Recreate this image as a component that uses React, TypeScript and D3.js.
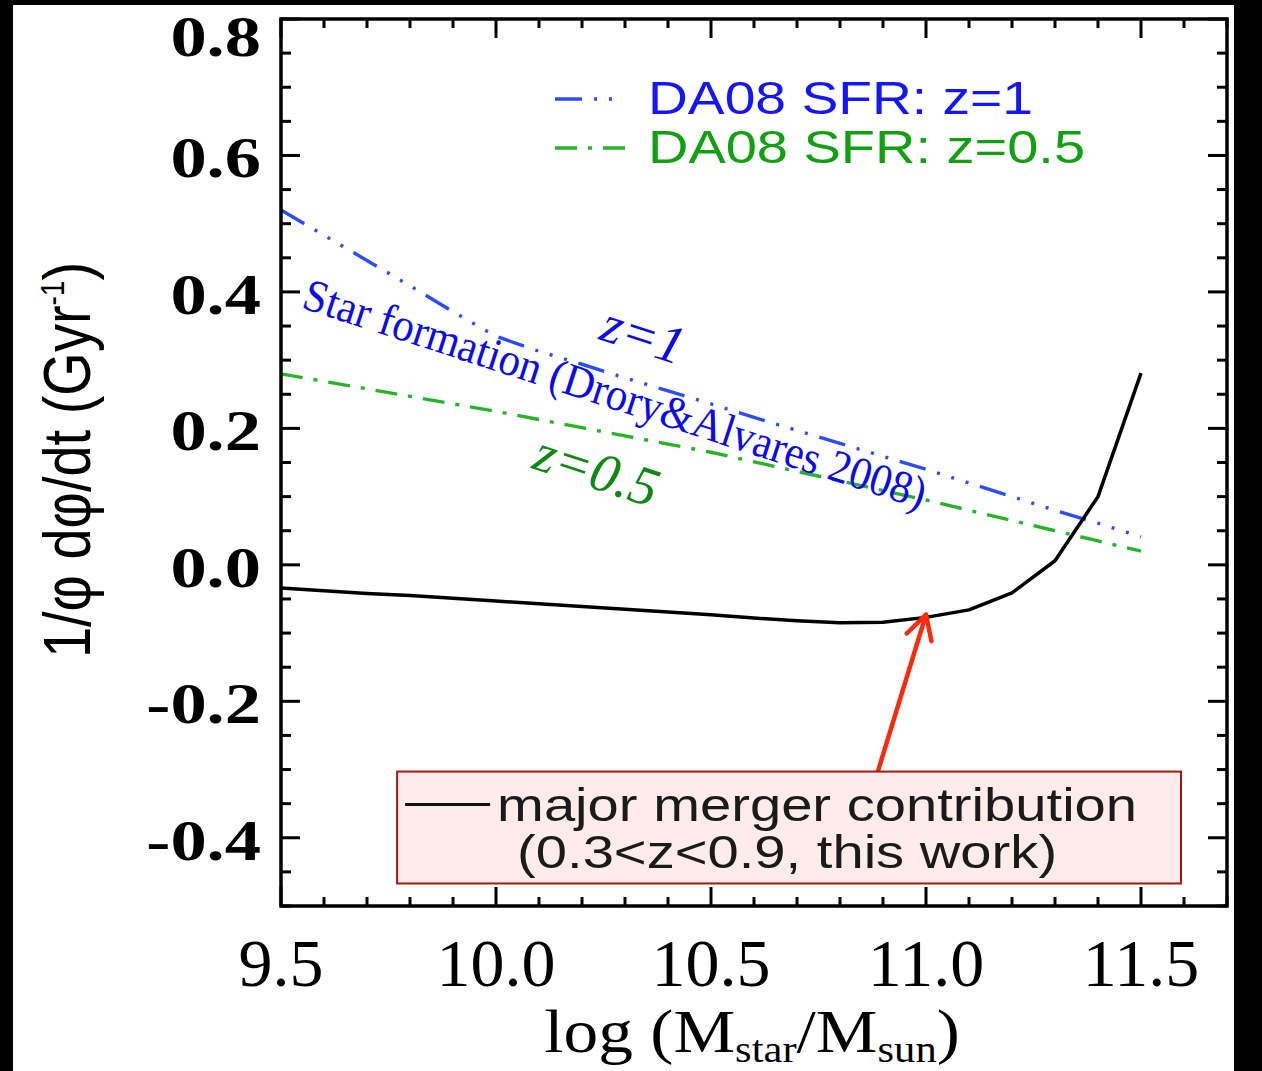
import React, { useEffect, useRef } from "react";
import * as d3 from "d3";

// log stellar mass grid
const logMass = [9.5, 9.6, 9.7, 9.8, 9.9, 10.0, 10.1, 10.2, 10.3, 10.4, 10.5, 10.6, 10.7, 10.8, 10.9, 11.0, 11.1, 11.2, 11.3, 11.4, 11.5];
// DA08 star formation, z=1
const sfrZ1 = [0.52, 0.483, 0.446, 0.409, 0.371, 0.335, 0.313, 0.294, 0.274, 0.255, 0.236, 0.216, 0.197, 0.178, 0.159, 0.14, 0.12, 0.1, 0.08, 0.061, 0.041];
// DA08 star formation, z=0.5
const sfrZ05 = [0.28, 0.269, 0.258, 0.247, 0.236, 0.225, 0.213, 0.201, 0.189, 0.177, 0.165, 0.151, 0.137, 0.123, 0.109, 0.095, 0.08, 0.065, 0.05, 0.035, 0.02];
// major merger contribution (0.3<z<0.9)
const mergerRate = [-0.034, -0.038, -0.042, -0.045, -0.049, -0.053, -0.057, -0.061, -0.065, -0.069, -0.073, -0.078, -0.082, -0.085, -0.084, -0.077, -0.066, -0.041, 0.006, 0.1, 0.281];

const xTickValues = [9.5, 10.0, 10.5, 11.0, 11.5];
const xTickLabels = ["9.5", "10.0", "10.5", "11.0", "11.5"];
const yTickValues = [-0.4, -0.2, 0.0, 0.2, 0.4, 0.6, 0.8];
const yTickLabels = ["-0.4", "-0.2", "0.0", "0.2", "0.4", "0.6", "0.8"];
const legendLabels = ["DA08 SFR: z=1", "DA08 SFR: z=0.5"];
const mergerLabels = ["major merger contribution", "(0.3<z<0.9, this work)"];

const W = 1262;
const H = 1071;
const SERIF = "'Liberation Serif', 'Times New Roman', serif";
const SANS = "'Liberation Sans', Arial, sans-serif";
const BLUE = "#2b4cff";
const GREEN = "#28b428";

const App = () => {
  const ref = useRef<SVGSVGElement>(null);

  useEffect(() => {
    const svg = d3.select(ref.current);
    svg.selectAll("*").remove();

    const x = d3.scaleLinear().domain([9.5, 11.7]).range([281, 1227]);
    const y = d3.scaleLinear().domain([-0.5, 0.8]).range([906, 19]);

    // page background with the black border of the scan
    svg.append("rect").attr("width", W).attr("height", H).attr("fill", "#000");
    svg.append("rect").attr("x", 13).attr("y", 5).attr("width", 1221).attr("height", H - 5).attr("fill", "#fff");

    const line = (vals: number[]) =>
      d3.line<number>().x((_, i) => x(logMass[i])).y((d) => y(d))(vals);

    svg.append("path").attr("d", line(sfrZ1)).attr("fill", "none")
      .attr("stroke", BLUE).attr("stroke-width", 3.4)
      .attr("stroke-dasharray", "27 12 3 12 3 12 3 12");
    svg.append("path").attr("d", line(sfrZ05)).attr("fill", "none")
      .attr("stroke", GREEN).attr("stroke-width", 3.4)
      .attr("stroke-dasharray", "22 11 4 11");
    svg.append("path").attr("d", line(mergerRate)).attr("fill", "none")
      .attr("stroke", "#000").attr("stroke-width", 3.5).attr("stroke-linejoin", "round");

    // frame + ticks
    const [x0, x1] = x.range();
    const [y0, y1] = y.range();
    const g = svg.append("g").attr("stroke", "#000");
    d3.range(95, 118).forEach((k) => {
      const v = k / 10;
      const len = k % 5 === 0 ? 19 : 9;
      const px = x(v);
      g.append("line").attr("x1", px).attr("x2", px).attr("y1", y0).attr("y2", y0 - len).attr("stroke-width", 3);
      g.append("line").attr("x1", px).attr("x2", px).attr("y1", y1).attr("y2", y1 + len).attr("stroke-width", 3);
    });
    d3.range(-10, 17).forEach((k) => {
      const v = k / 20;
      const len = k % 4 === 0 ? 19 : 10;
      const py = y(v);
      g.append("line").attr("x1", x0).attr("x2", x0 + len).attr("y1", py).attr("y2", py).attr("stroke-width", 3);
      g.append("line").attr("x1", x1).attr("x2", x1 - len).attr("y1", py).attr("y2", py).attr("stroke-width", 3);
    });
    g.append("rect").attr("x", x0).attr("y", y1).attr("width", x1 - x0).attr("height", y0 - y1)
      .attr("fill", "none").attr("stroke-width", 3.5);

    // tick labels
    xTickValues.forEach((v, i) => {
      svg.append("text").attr("x", x(v)).attr("y", 986).attr("text-anchor", "middle")
        .attr("font-family", SERIF).attr("font-size", 68).text(xTickLabels[i]);
    });
    yTickValues.forEach((v, i) => {
      const cy = Math.max(y(v) + 3, y1 + 18);
      svg.append("text").attr("transform", `translate(261,${cy + 19}) scale(1.25,1)`)
        .attr("text-anchor", "end")
        .attr("font-family", SERIF).attr("font-weight", "bold")
        .attr("font-size", 58).text(yTickLabels[i]);
    });

    // axis titles
    const xt = svg.append("text").attr("transform", "translate(752,1052) scale(1.12,1)")
      .attr("text-anchor", "middle").attr("font-family", SERIF).attr("font-size", 62);
    xt.append("tspan").text("log (M");
    xt.append("tspan").attr("dy", 10).attr("font-size", 38).text("star");
    xt.append("tspan").attr("dy", -10).text("/M");
    xt.append("tspan").attr("dy", 10).attr("font-size", 38).text("sun");
    xt.append("tspan").attr("dy", -10).text(")");

    const yt = svg.append("text").attr("transform", "translate(90,460) scale(1.2,1) rotate(-90)")
      .attr("text-anchor", "middle").attr("font-family", SANS).attr("font-size", 56);
    yt.append("tspan").text("1/φ dφ/dt (Gyr");
    yt.append("tspan").attr("dy", -22).attr("font-size", 28).text("-1");
    yt.append("tspan").attr("dy", 22).text(")");

    // top legend
    const legendColors = [BLUE, GREEN];
    const legendText = ["#1414ff", "#10a010"];
    const legendDash = ["27 12 3 12 3 12 3 12", "22 11 4 11"];
    const legendLen = [62, 70];
    const legendWidth = [385, 437];
    legendLabels.forEach((lab, i) => {
      const base = 114 + i * 49;
      svg.append("line").attr("x1", 555).attr("x2", 555 + legendLen[i]).attr("y1", base - 15).attr("y2", base - 15)
        .attr("stroke", legendColors[i]).attr("stroke-width", 3.4).attr("stroke-dasharray", legendDash[i]);
      svg.append("text").attr("x", 648).attr("y", base).attr("font-family", SANS).attr("font-size", 46)
        .attr("fill", legendText[i]).attr("textLength", legendWidth[i]).attr("lengthAdjust", "spacingAndGlyphs")
        .text(lab);
    });

    // in-plot annotations
    svg.append("text")
      .attr("transform", `translate(${x(9.545)},${y(0.377)}) rotate(18)`)
      .attr("font-family", SERIF).attr("font-size", 46).attr("fill", "#0a0aee")
      .attr("textLength", 652).attr("lengthAdjust", "spacingAndGlyphs")
      .text("Star formation (Drory&Alvares 2008)");
    svg.append("text")
      .attr("transform", `translate(${x(10.33)},${y(0.312)}) rotate(18)`)
      .attr("text-anchor", "middle").attr("font-family", SERIF).attr("font-style", "italic")
      .attr("font-size", 54).attr("fill", "#0a0aee").text("z=1");
    svg.append("text")
      .attr("transform", `translate(${x(10.221)},${y(0.113)}) rotate(18)`)
      .attr("text-anchor", "middle").attr("font-family", SERIF).attr("font-style", "italic")
      .attr("font-size", 55).attr("fill", "#118811").text("z=0.5");

    // red arrow
    const tail: [number, number] = [x(10.888), y(-0.303)];
    const tip: [number, number] = [x(11.0), y(-0.073)];
    const ang = Math.atan2(tail[1] - tip[1], tail[0] - tip[0]);
    const red = "#ff2a0a";
    svg.append("line").attr("x1", tail[0]).attr("y1", tail[1]).attr("x2", tip[0]).attr("y2", tip[1])
      .attr("stroke", red).attr("stroke-width", 4.5);
    [-0.5, 0.5].forEach((d) => {
      svg.append("line").attr("x1", tip[0]).attr("y1", tip[1])
        .attr("x2", tip[0] + 27 * Math.cos(ang + d)).attr("y2", tip[1] + 27 * Math.sin(ang + d))
        .attr("stroke", red).attr("stroke-width", 4.5).attr("stroke-linecap", "round");
    });

    // merger legend box
    const bx0 = x(9.77), bx1 = x(11.593), by0 = y(-0.303), by1 = y(-0.467);
    svg.append("rect").attr("x", bx0).attr("y", by0).attr("width", bx1 - bx0).attr("height", by1 - by0)
      .attr("fill", "#fdecea").attr("stroke", "#9e1a12").attr("stroke-width", 2);
    svg.append("line").attr("x1", bx0 + 8).attr("x2", bx0 + 93).attr("y1", by0 + 33).attr("y2", by0 + 33)
      .attr("stroke", "#111").attr("stroke-width", 3);
    svg.append("text").attr("x", bx0 + 100).attr("y", by0 + 49).attr("font-family", SANS).attr("font-size", 46)
      .attr("fill", "#1a1a1a").attr("textLength", 640).attr("lengthAdjust", "spacingAndGlyphs").text(mergerLabels[0]);
    svg.append("text").attr("x", bx0 + 120).attr("y", by0 + 96).attr("font-family", SANS).attr("font-size", 46)
      .attr("fill", "#1a1a1a").attr("textLength", 540).attr("lengthAdjust", "spacingAndGlyphs").text(mergerLabels[1]);
  }, []);

  return (
    <svg ref={ref} width={W} height={H}
      style={{ position: "absolute", left: 0, top: 0, display: "block" }} />
  );
};

export default App;
